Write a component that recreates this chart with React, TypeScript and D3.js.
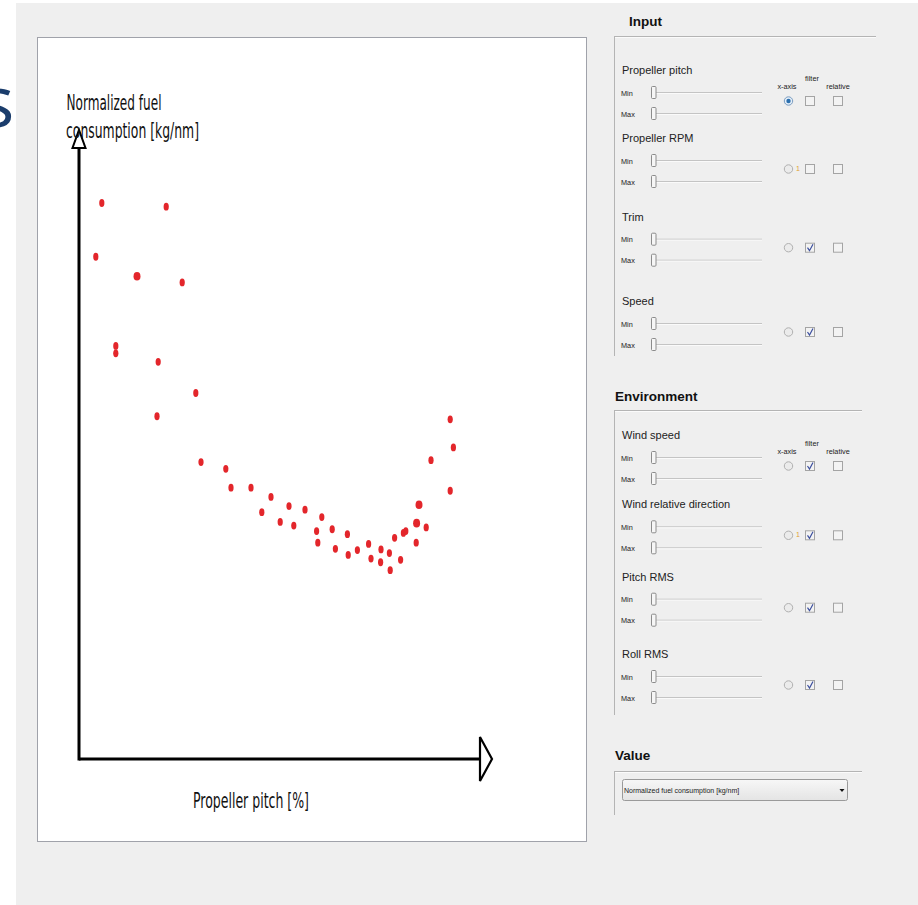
import React from "react";
import * as d3 from "d3";

// ---- Data ----
const pitch = [5.7, 21.8, 4.2, 14.5, 25.8, 9.2, 9.2, 19.8, 29.2, 19.5, 30.5, 36.7, 38.0, 43.0, 48.0, 45.7, 52.5, 50.3, 53.7, 56.5, 60.7, 59.4, 59.7, 63.3, 64.1, 67.1, 67.3, 69.6, 72.4, 73.0, 75.5, 75.4, 77.6, 77.8, 78.9, 80.4, 81.1, 81.7, 84.3, 84.4, 85.0, 86.8, 88.0, 92.8, 93.6, 92.8];
const fuel = [91.0, 90.4, 82.2, 79.0, 78.0, 67.6, 66.4, 65.0, 59.9, 56.1, 48.6, 47.5, 44.4, 44.4, 42.9, 40.4, 41.4, 38.8, 38.2, 40.8, 39.6, 37.3, 35.4, 37.6, 34.4, 36.8, 33.4, 34.2, 35.2, 32.8, 34.3, 32.2, 33.7, 30.9, 36.2, 32.6, 37.0, 37.3, 35.4, 38.6, 41.6, 37.9, 48.9, 55.6, 51.0, 43.9];
const weight = [1, 1, 1, 2, 1, 1, 1, 1, 1, 1, 1, 1, 1, 1, 1, 1, 1, 1, 1, 1, 1, 1, 1, 1, 1, 1, 1, 1, 1, 1, 1, 1, 1, 1, 1, 1, 1, 1, 1, 2, 2, 1, 1, 1, 1, 1];

const xLabel = "Propeller pitch [%]";
const yLabelLines = ["Normalized fuel", "consumption [kg/nm]"];

const inputParams = ["Propeller pitch", "Propeller RPM", "Trim", "Speed"];
const inputFilter = [false, false, true, true];
const inputMarker = [false, true, false, false];
const envParams = ["Wind speed", "Wind relative direction", "Pitch RMS", "Roll RMS"];
const envFilter = [true, true, true, true];
const envMarker = [false, true, false, false];
const xAxisSelected = "Propeller pitch";
const valueOption = "Normalized fuel consumption [kg/nm]";
const sectionTitles = ["Input", "Environment", "Value"];

const UI = "'Liberation Sans', Arial, sans-serif";
const COND = "'DejaVu Sans Condensed', 'DejaVu Sans', sans-serif";
const RED = "#e3262b";

function ParamRow({ name, titleY, filter, marker, headers }: any) {
  const minY = titleY + 23;
  const maxY = minY + 21;
  const ctlY = minY + 8;
  const slider = (y: number) => (
    <g>
      <line x1={656} x2={762} y1={y - 0.5} y2={y - 0.5} stroke="#c4c4c4" strokeWidth={1} />
      <line x1={656} x2={762} y1={y + 0.5} y2={y + 0.5} stroke="#fafafa" strokeWidth={1} />
      <rect x={651.5} y={y - 6.5} width={4.5} height={12} rx={1} fill="#f6f6f6" stroke="#8c8c8c" strokeWidth={1} />
    </g>
  );
  const box = (x: number, checked: boolean) => (
    <g>
      <rect x={x + 0.5} y={ctlY - 4.5} width={9} height={9} fill="#f3f3f3" stroke="#a4a4a4" />
      {checked && (
        <path d={`M${x + 2.5},${ctlY} L${x + 4.5},${ctlY + 3} L${x + 8},${ctlY - 3.5}`} fill="none" stroke="#3c4f9e" strokeWidth={1.2} />
      )}
    </g>
  );
  const selected = name === xAxisSelected;
  return (
    <g>
      <text x={622} y={titleY + 4} fontFamily={UI} fontSize={11} fill="#222">{name}</text>
      <text x={621} y={minY + 2.5} fontFamily={UI} fontSize={7.3} fill="#222">Min</text>
      <text x={621} y={maxY + 2.5} fontFamily={UI} fontSize={7.3} fill="#222">Max</text>
      {slider(minY)}
      {slider(maxY)}
      {headers && (
        <g fontFamily={UI} fontSize={7.3} fill="#222">
          <text x={787} y={minY - 4.5} textAnchor="middle">x-axis</text>
          <text x={812} y={minY - 12.5} textAnchor="middle">filter</text>
          <text x={838} y={minY - 4.5} textAnchor="middle">relative</text>
        </g>
      )}
      <circle cx={788.5} cy={ctlY} r={4.2} fill={selected ? "#e4eef8" : "#ebebeb"} stroke={selected ? "#7a9cc0" : "#b0b0b0"} />
      {selected && <circle cx={788.5} cy={ctlY} r={2.2} fill="#2a6fae" />}
      {marker && <text x={796} y={ctlY + 2} fontFamily={UI} fontSize={7} fill="#e0a030">1</text>}
      {box(805, filter)}
      {box(833, false)}
    </g>
  );
}

function GroupBox({ title, titleX, titleY, lineY, lineX2, bottom }: any) {
  return (
    <g>
      <text x={titleX} y={titleY} fontFamily={UI} fontSize={13.5} fontWeight="bold" fill="#111">{title}</text>
      <line x1={614} x2={lineX2} y1={lineY} y2={lineY} stroke="#b4b4b4" />
      <line x1={614} x2={lineX2} y1={lineY + 1} y2={lineY + 1} stroke="#fbfbfb" />
      <line x1={614.5} x2={614.5} y1={lineY} y2={bottom} stroke="#b4b4b4" />
    </g>
  );
}

export default function App() {
  const x = d3.scaleLinear().domain([0, 100]).range([79, 479]);
  const y = d3.scaleLinear().domain([0, 100]).range([759, 148]);
  const pts = pitch.map((p, i) => ({ p, f: fuel[i], w: weight[i] }));

  const inputTitleY = [70, 138, 216.7, 301];
  const envTitleY = [435, 504.3, 576.7, 654];

  return (
    <div style={{ position: "absolute", left: 0, top: 0 }}>
      <svg width={918} height={905} style={{ display: "block" }}>
        <rect x={0} y={0} width={918} height={905} fill="#ffffff" />
        <rect x={16} y={3} width={902} height={902} fill="#efefef" />
        <text x={-20} y={127} fontFamily="'Open Sans', sans-serif" fontSize={72} fill="#1b3d6c">s</text>
        <rect x={16} y={3} width={20} height={200} fill="#efefef" />

        {/* plot panel */}
        <rect x={37.5} y={37.5} width={549} height={804} fill="#ffffff" stroke="#a0a2aa" />

        {/* data points */}
        <g fill={RED}>
          {pts.map((d, i) => (
            <ellipse key={i} cx={x(d.p)} cy={y(d.f)} rx={d.w > 1 ? 3.5 : 2.6} ry={d.w > 1 ? 4.3 : 3.9} />
          ))}
        </g>

        {/* axes */}
        <line x1={x(0)} x2={x(0)} y1={y(0) + 1.5} y2={y(100)} stroke="#000" strokeWidth={3} />
        <line x1={x(0)} x2={x(100) + 1} y1={y(0)} y2={y(0)} stroke="#000" strokeWidth={3} />
        <path d={`M${x(0) - 6.5},${y(100)} L${x(0) + 6.5},${y(100)} L${x(0)},${y(100) - 18} Z`} fill="#fff" stroke="#000" strokeWidth={2} />
        <path d={`M${x(100) + 1},${y(0) - 22} L${x(100) + 1},${y(0) + 22} L${x(100) + 13},${y(0)} Z`} fill="#fff" stroke="#000" strokeWidth={2.2} />

        <text x={193} y={808} fontFamily={COND} fontSize={21} fill="#111" textLength={116} lengthAdjust="spacingAndGlyphs">{xLabel}</text>
        <text x={66.5} y={110} fontFamily={COND} fontSize={21} fill="#111" textLength={95} lengthAdjust="spacingAndGlyphs">{yLabelLines[0]}</text>
        <text x={66} y={138} fontFamily={COND} fontSize={21} fill="#111" textLength={133} lengthAdjust="spacingAndGlyphs">{yLabelLines[1]}</text>

        {/* right panel */}
        <GroupBox title={sectionTitles[0]} titleX={629} titleY={26} lineY={36.5} lineX2={876} bottom={356} />
        {inputParams.map((n, i) => (
          <ParamRow key={n} name={n} titleY={inputTitleY[i]} filter={inputFilter[i]} marker={inputMarker[i]} headers={i === 0} />
        ))}
        <GroupBox title={sectionTitles[1]} titleX={615} titleY={400.5} lineY={410.5} lineX2={862} bottom={715} />
        {envParams.map((n, i) => (
          <ParamRow key={n} name={n} titleY={envTitleY[i]} filter={envFilter[i]} marker={envMarker[i]} headers={i === 0} />
        ))}
        <GroupBox title={sectionTitles[2]} titleX={615} titleY={760} lineY={771.5} lineX2={862} bottom={815} />
        <defs>
          <linearGradient id="dd" x1="0" x2="0" y1="0" y2="1">
            <stop offset="0" stopColor="#f7f7f7" />
            <stop offset="1" stopColor="#e4e4e4" />
          </linearGradient>
        </defs>
        <rect x={622.5} y={779.5} width={225} height={21} rx={2} fill="url(#dd)" stroke="#9a9a9a" />
        <text x={624} y={792.5} fontFamily={UI} fontSize={7} fill="#222">{valueOption}</text>
        <path d="M839.5,789 L844.5,789 L842,792 Z" fill="#111" />
      </svg>
    </div>
  );
}
